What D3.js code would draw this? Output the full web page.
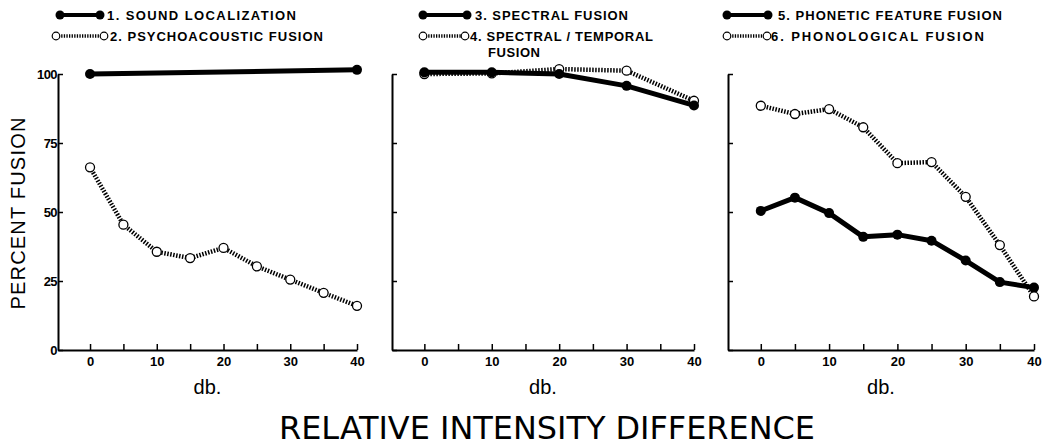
<!DOCTYPE html>
<html>
<head>
<meta charset="utf-8">
<title>Percent fusion vs relative intensity difference</title>
<script src="https://d3js.org/d3.v7.min.js"></script>
<style>
  body { margin: 0; background: #fff; }
  svg text { fill: #000; }
</style>
</head>
<body>
<div id="chart"></div>
<script>
// ---- data ----
var dbEnds = [0, 40];
var dbFive = [0, 5, 10, 15, 20, 25, 30, 35, 40];
var dbTen = [0, 10, 20, 30, 40];

var soundLocalization = [100, 101.5];
var psychoacousticFusion = [66.2, 45.4, 35.6, 33.3, 37, 30.3, 25.5, 20.7, 16];
var spectralFusion = [100.6, 100.6, 100, 95.7, 88.6];
var spectralTemporalFusion = [100, 100.2, 101.8, 101.2, 90.3];
var phoneticFeatureFusion = [50.4, 55.2, 49.6, 41, 41.8, 39.6, 32.4, 24.6, 22.6];
var phonologicalFusion = [88.5, 85.5, 87.3, 80.7, 67.7, 68.1, 55.5, 38, 19.4];

var yTicks = [0, 25, 50, 75, 100];
var xTicks = [0, 5, 10, 15, 20, 25, 30, 35, 40];
var xTickLabels = ["0", "10", "20", "30", "40"];

var legendSolid = ["1. SOUND LOCALIZATION", "3. SPECTRAL FUSION", "5. PHONETIC FEATURE FUSION"];
var legendDotted = ["2. PSYCHOACOUSTIC FUSION", "4. SPECTRAL / TEMPORAL", "6. PHONOLOGICAL FUSION"];

// ---- layout ----
var W = 1045, H = 447;
var svg = d3.select("#chart").append("svg")
  .attr("width", W).attr("height", H);

var y = d3.scaleLinear().domain([0, 100]).range([350, 74]);

var panels = [
  { x0: 58, x1: 357, solid: [dbEnds, soundLocalization], dotted: [dbFive, psychoacousticFusion],
    leg: { s: [60, 100, 107, 189], d: [56, 104, 110, 213] }, labels: true },
  { x0: 392, x1: 694, solid: [dbTen, spectralFusion], dotted: [dbTen, spectralTemporalFusion],
    leg: { s: [423, 467, 475, 153], d: [423, 465, 470, 183] }, labels: false, dottedFirst: true },
  { x0: 728, x1: 1034, solid: [dbFive, phoneticFeatureFusion], dotted: [dbFive, phonologicalFusion],
    leg: { s: [727, 768, 778, 224], d: [727, 767, 771, 213] }, labels: false }
];

var tickFont = "'Liberation Sans', Arial, sans-serif";
var legFont = "'Liberation Sans', Arial, sans-serif";
var legSize = 13;

function drawSolid(g, xs, ys, x, r, w) {
  var pts = xs.map(function(d, i) { return [x(d), y(ys[i])]; });
  g.append("path")
    .attr("d", d3.line()(pts))
    .attr("fill", "none").attr("stroke", "#000")
    .attr("stroke-width", w).attr("stroke-linejoin", "round");
  g.selectAll(null).data(pts).enter().append("circle")
    .attr("cx", function(d) { return d[0]; })
    .attr("cy", function(d) { return d[1]; })
    .attr("r", r).attr("fill", "#000");
}

function drawDotted(g, xs, ys, x, r, w) {
  var pts = xs.map(function(d, i) { return [x(d), y(ys[i])]; });
  g.append("path")
    .attr("d", d3.line()(pts))
    .attr("fill", "none").attr("stroke", "#000")
    .attr("stroke-width", w).attr("stroke-dasharray", "1.5,1.5");
  g.selectAll(null).data(pts).enter().append("circle")
    .attr("cx", function(d) { return d[0]; })
    .attr("cy", function(d) { return d[1]; })
    .attr("r", r).attr("fill", "#fff")
    .attr("stroke", "#000").attr("stroke-width", 1.3);
}

panels.forEach(function(p, i) {
  var x = d3.scaleLinear().domain([-4.8, 40]).range([p.x0, p.x1]);
  var g = svg.append("g");

  // x axis, ticks pointing inward
  var xa = g.append("g")
    .attr("transform", "translate(0," + y(0) + ")")
    .call(d3.axisBottom(x).tickValues(xTicks).tickSizeInner(-6).tickSizeOuter(0).tickPadding(7)
      .tickFormat(function(d) { return xTickLabels.indexOf(String(d)) >= 0 ? String(d) : ""; }));
  xa.select(".domain").attr("stroke-width", 2);
  xa.selectAll(".tick line").attr("stroke-width", 1.5);
  xa.selectAll("text").attr("font-family", tickFont).attr("font-weight", "bold")
    .attr("font-size", 13).attr("fill", "#000");

  // y axis
  var ya = g.append("g")
    .attr("transform", "translate(" + p.x0 + ",0)")
    .call(d3.axisLeft(y).tickValues(yTicks).tickSizeInner(-5).tickSizeOuter(0).tickPadding(1)
      .tickFormat(p.labels ? d3.format("d") : ""));
  ya.select(".domain").attr("stroke-width", 2);
  ya.selectAll(".tick line").attr("stroke-width", 1.5);
  ya.selectAll("text").attr("font-family", tickFont).attr("font-weight", "bold")
    .attr("font-size", 13).attr("fill", "#000").attr("letter-spacing", "-0.6");

  // series
  if (p.dottedFirst) {
    drawDotted(g, p.dotted[0], p.dotted[1], x, 4.5, 4.5);
    drawSolid(g, p.solid[0], p.solid[1], x, 5, 5);
  } else {
    drawSolid(g, p.solid[0], p.solid[1], x, 5, 5);
    drawDotted(g, p.dotted[0], p.dotted[1], x, 4.5, 4.5);
  }

  // "db." label
  g.append("text")
    .attr("x", (p.x0 + p.x1) / 2).attr("y", 394)
    .attr("text-anchor", "middle")
    .attr("font-family", tickFont).attr("font-size", 20)
    .text("db.");

  // legend
  var lg = svg.append("g");
  var s = p.leg.s, d = p.leg.d;
  lg.append("line").attr("x1", s[0]).attr("x2", s[1]).attr("y1", 15).attr("y2", 15)
    .attr("stroke", "#000").attr("stroke-width", 4);
  [s[0], s[1]].forEach(function(cx) {
    lg.append("circle").attr("cx", cx).attr("cy", 15).attr("r", 4.5).attr("fill", "#000");
  });
  lg.append("text").attr("x", s[2]).attr("y", 20)
    .attr("font-family", legFont).attr("font-weight", "bold").attr("font-size", legSize)
    .attr("textLength", s[3]).attr("lengthAdjust", "spacing")
    .text(legendSolid[i]);

  lg.append("line").attr("x1", d[0]).attr("x2", d[1]).attr("y1", 36).attr("y2", 36)
    .attr("stroke", "#000").attr("stroke-width", 3.5).attr("stroke-dasharray", "1.3,1.3");
  [d[0], d[1]].forEach(function(cx) {
    lg.append("circle").attr("cx", cx).attr("cy", 36).attr("r", 3.8)
      .attr("fill", "#fff").attr("stroke", "#000").attr("stroke-width", 1.2);
  });
  lg.append("text").attr("x", d[2]).attr("y", 41)
    .attr("font-family", legFont).attr("font-weight", "bold").attr("font-size", legSize)
    .attr("textLength", d[3]).attr("lengthAdjust", "spacing")
    .text(legendDotted[i]);
  if (i === 1) {
    lg.append("text").attr("x", 488).attr("y", 57)
      .attr("font-family", legFont).attr("font-weight", "bold").attr("font-size", legSize)
      .attr("textLength", 52).attr("lengthAdjust", "spacing")
      .text("FUSION");
  }
});

// y axis title
svg.append("text")
  .attr("transform", "translate(25,213) rotate(-90)")
  .attr("text-anchor", "middle")
  .attr("font-family", tickFont).attr("font-size", 20)
  .attr("letter-spacing", "1.2")
  .text("PERCENT FUSION");

// shared x title
svg.append("text")
  .attr("x", 547).attr("y", 439)
  .attr("text-anchor", "middle")
  .attr("font-family", "'Liberation Sans Narrow', 'DejaVu Sans Condensed', sans-serif")
  .attr("font-size", 32)
  .attr("textLength", 536).attr("lengthAdjust", "spacingAndGlyphs")
  .text("RELATIVE INTENSITY DIFFERENCE");
</script>
</body>
</html>
